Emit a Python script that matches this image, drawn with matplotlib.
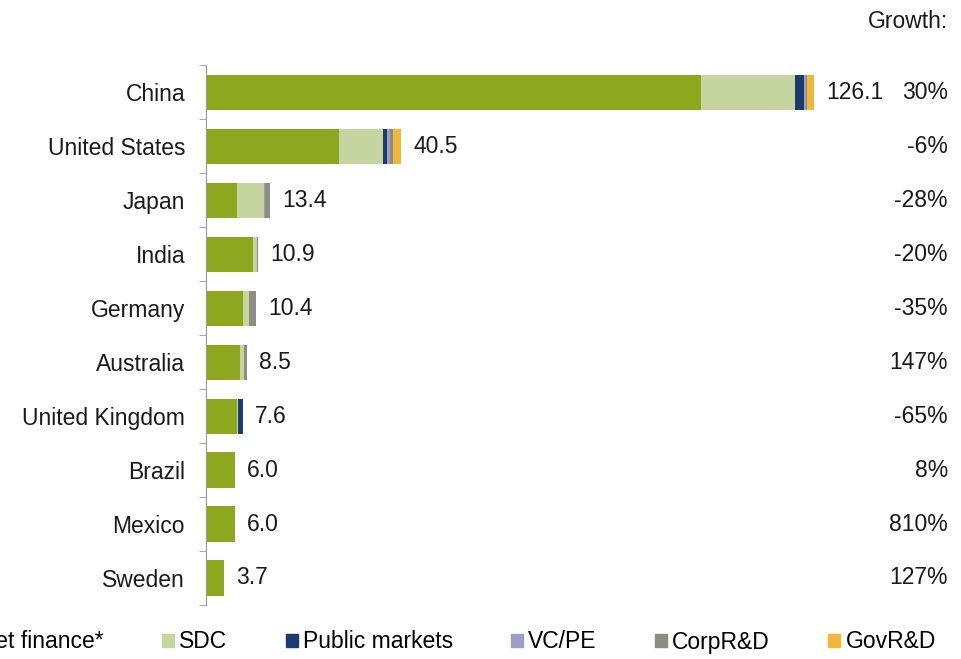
import matplotlib
matplotlib.use('Agg')
from matplotlib import pyplot as plt
from matplotlib.patches import Patch
from matplotlib.transforms import blended_transform_factory
import numpy as np

countries = ['China', 'United States', 'Japan', 'India', 'Germany',
             'Australia', 'United Kingdom', 'Brazil', 'Mexico', 'Sweden']
asset_finance = [102.7, 27.7, 6.5, 9.8, 7.8, 7.0, 6.4, 6.0, 6.0, 3.7]
sdc = [19.5, 9.1, 5.6, 0.8, 1.2, 1.0, 0.2, 0.0, 0.0, 0.0]
public_markets = [1.9, 0.8, 0.0, 0.0, 0.0, 0.0, 1.0, 0.0, 0.0, 0.0]
vc_pe = [0.3, 0.6, 0.1, 0.0, 0.0, 0.0, 0.0, 0.0, 0.0, 0.0]
corp_rd = [0.3, 0.6, 1.2, 0.3, 1.4, 0.5, 0.0, 0.0, 0.0, 0.0]
gov_rd = [1.4, 1.7, 0.0, 0.0, 0.0, 0.0, 0.0, 0.0, 0.0, 0.0]
totals = [126.1, 40.5, 13.4, 10.9, 10.4, 8.5, 7.6, 6.0, 6.0, 3.7]
growth = ['30%', '-6%', '-28%', '-20%', '-35%', '147%', '-65%', '8%', '810%', '127%']

series = [('Asset finance*', asset_finance, '#8da81f'),
          ('SDC', sdc, '#c6d5a0'),
          ('Public markets', public_markets, '#1d3c6e'),
          ('VC/PE', vc_pe, '#9b9dc2'),
          ('CorpR&D', corp_rd, '#8d8d82'),
          ('GovR&D', gov_rd, '#f1b73b')]

FS = 16.5
plt.rcParams['font.family'] = ['Liberation Sans', 'DejaVu Sans']
fig = plt.figure(figsize=(9.62, 6.59), dpi=100)
ax = fig.add_axes([0.214, 0.082, 0.6514, 0.819])

y = np.arange(len(countries))
left = np.zeros(len(countries))
for name, vals, col in series:
    vals = np.array(vals)
    ax.barh(y, vals, left=left, height=0.65, color=col, label=name)
    left += vals

# value labels and growth column
tr = blended_transform_factory(fig.transFigure, ax.transData)
for i, t in enumerate(totals):
    ax.text(t + 2.5, i, f'{t:.1f}', va='center', ha='left', fontsize=FS, color='#1a1a1a')
    fig.text(948 / 962, i, growth[i], ha='right', va='center', fontsize=FS,
             color='#1a1a1a', transform=tr)

fig.text(948 / 962, 1 - 22 / 659, 'Growth:', ha='right', va='center', fontsize=FS, color='#1a1a1a')

ax.set_xlim(0, 130)
ax.set_ylim(9.5, -0.5)
ax.set_yticks(y)
ax.set_yticklabels(countries, fontsize=FS, color='#1a1a1a')
ax.set_yticks(np.arange(-0.5, 10, 1), minor=True)
ax.tick_params(axis='y', which='major', length=0, pad=15)
ax.tick_params(axis='y', which='minor', length=5, color='#999999', direction='out')
ax.set_xticks([])
for s in ['top', 'right', 'bottom']:
    ax.spines[s].set_visible(False)
ax.spines['left'].set_color('#999999')

# legend runs off the left edge, as in the original
handles = [Patch(color=c) for _, _, c in series]
labels = [n for n, _, _ in series]
fig.legend(handles, labels, loc='center left', bbox_to_anchor=(-0.062, 1 - 642 / 659),
           ncol=6, frameon=False, fontsize=FS, handlelength=0.52, handleheight=0.52,
           handletextpad=0.22, columnspacing=2.55, borderaxespad=0, borderpad=0)

fig.savefig('out.png', dpi=100)
